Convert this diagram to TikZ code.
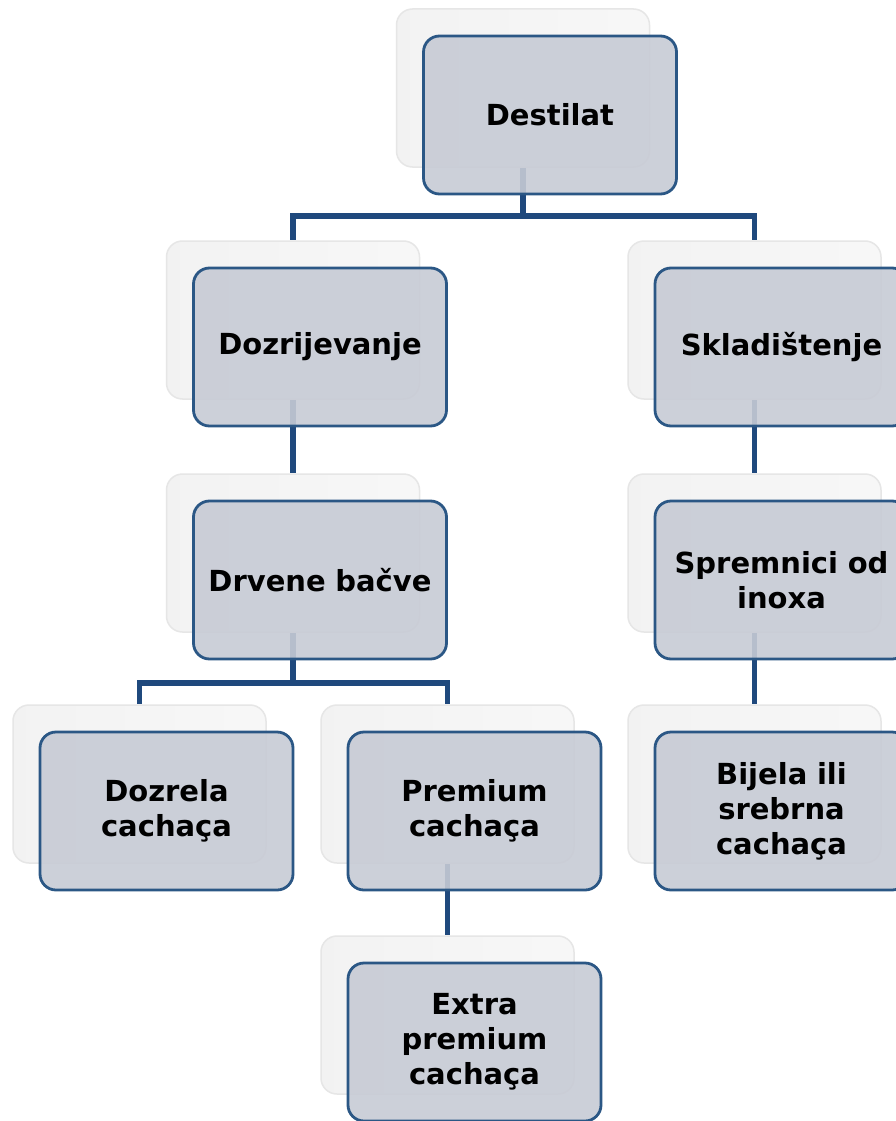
\documentclass[tikz,border=0pt]{standalone}
\usepackage{fontspec}
\setmainfont{DejaVu Sans}
\definecolor{frontfill}{HTML}{C7CBD5}
\definecolor{frontdraw}{HTML}{2B5785}
\definecolor{connc}{HTML}{1F497D}
\definecolor{backdraw}{HTML}{E6E6E6}
\pgfdeclarelayer{bg}
\pgfsetlayers{bg,main}
\tikzset{
  frontbox/.style={draw=frontdraw, line width=2.8pt, fill=frontfill, fill opacity=0.9, text opacity=1,
    rounded corners=16pt, minimum width=253pt, minimum height=158pt, text width=245pt,
    align=center, inner sep=0pt,
    font=\fontsize{29}{35}\selectfont\bfseries},
  backbox/.style={draw=backdraw, line width=1.5pt, left color=black!5, middle color=white, right color=white!97!black,
    rounded corners=16pt, minimum width=253pt, minimum height=158pt, inner sep=0pt},
  conn/.style={draw=connc, line width=5.5pt}
}
\newcommand{\cbox}[4]{%
  \node[backbox] (#1-s) at ({#2-27},{#3-27}) {};
  \node[frontbox] (#1) at (#2,#3) {#4};
}
\begin{document}
\begin{tikzpicture}[x=1pt,y=-1pt]
\useasboundingbox (0,0) rectangle (896,1121);
\clip (0,0) rectangle (896,1121);
\cbox{dest}{550}{115}{Destilat}
\cbox{doz}{320}{347}{Dozrijevanje}
\cbox{skl}{781.5}{347}{Skladištenje}
\cbox{drv}{320}{580}{Drvene bačve}
\cbox{spr}{781.5}{580}{Spremnici od\\inoxa}
\cbox{dzr}{166.5}{811}{Dozrela\\cachaça}
\cbox{pre}{474.5}{811}{Premium\\cachaça}
\cbox{bij}{781.5}{811}{Bijela ili\\srebrna\\cachaça}
\cbox{ext}{474.5}{1042}{Extra\\premium\\cachaça}
\begin{pgfonlayer}{bg}
\fill[white] (0,0) rectangle (896,1121);
\coordinate (m1) at (0,216);
\coordinate (m2) at (0,683);
\draw[conn] (dest-s.center) -- (dest-s.center |- m1) -| (doz-s.north);
\draw[conn] (dest-s.center |- m1) -| (skl-s.north);
\draw[conn] (doz-s.center) -- (drv-s.north);
\draw[conn] (skl-s.center) -- (spr-s.north);
\draw[conn] (spr-s.center) -- (bij-s.north);
\draw[conn] (drv-s.center) -- (drv-s.center |- m2) -| (dzr-s.north);
\draw[conn] (drv-s.center |- m2) -| (pre-s.north);
\draw[conn] (pre-s.center) -- (ext-s.north);
\end{pgfonlayer}
\end{tikzpicture}
\end{document}
